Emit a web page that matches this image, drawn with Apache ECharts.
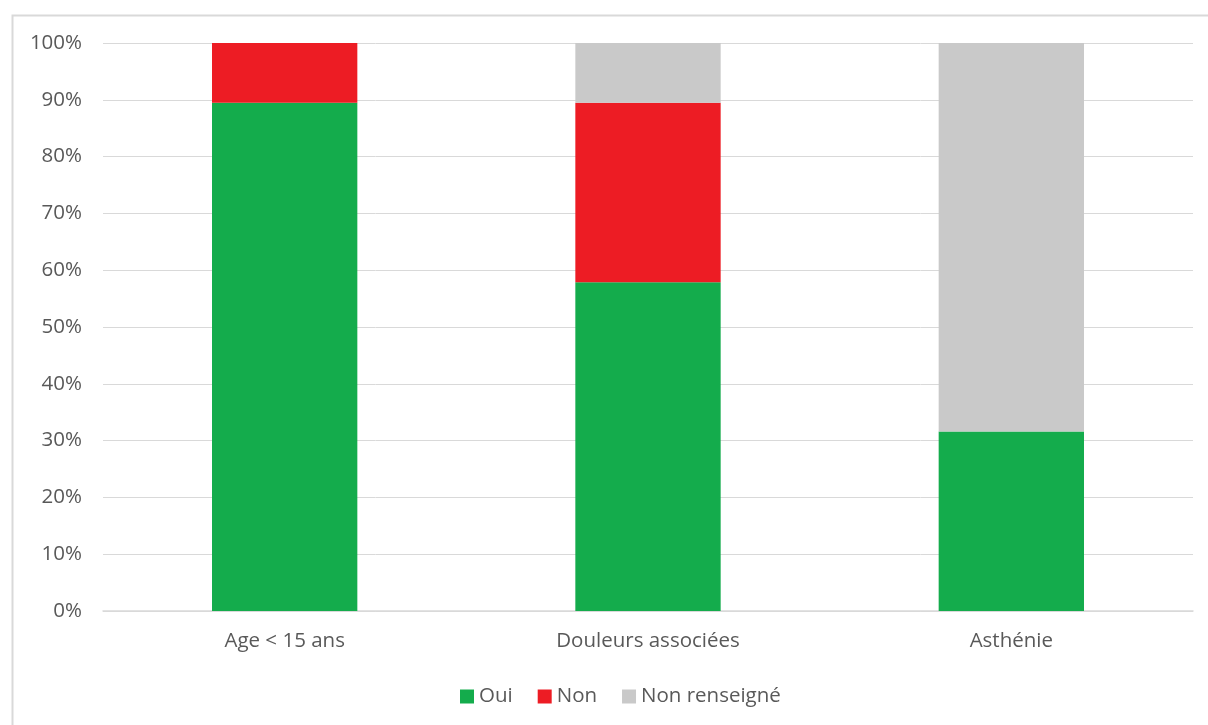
<!DOCTYPE html>
<html>
<head>
<meta charset="utf-8">
<script src="https://cdn.jsdelivr.net/npm/echarts@6/dist/echarts.min.js"></script>
<style>html,body{margin:0;padding:0;background:#fff}#c{width:1208px;height:725px}</style>
</head>
<body>
<div id="c"></div>
<script>
const categories = ['Age < 15 ans', 'Douleurs associées', 'Asthénie'];
const seriesNames = ['Oui', 'Non', 'Non renseigné'];
const oui = [89.5, 57.9, 31.6];
const non = [10.5, 31.6, 0];
const nonRenseigne = [0, 10.5, 68.4];
const yTicks = [0, 10, 20, 30, 40, 50, 60, 70, 80, 90, 100];
const colors = ['#14AC4C', '#ED1C24', '#C9C9C9'];

const chart = echarts.init(document.getElementById('c'), null, {renderer: 'canvas'});
const font = '"Open Sans", Lato, sans-serif';
const values = [oui, non, nonRenseigne];
chart.setOption({
  animation: false,
  textStyle: {fontFamily: font},
  graphic: [{
    type: 'rect', left: 10, top: 13, silent: true,
    shape: {x: 0, y: 0, width: 1400, height: 900},
    style: {fill: 'none', stroke: '#d9d9d9', lineWidth: 2}
  }],
  grid: {left: 103, right: 15, top: 43, bottom: 114, containLabel: false},
  legend: {
    bottom: 13, left: 455, itemWidth: 14, itemHeight: 14, itemGap: 25,
    icon: 'rect',
    textStyle: {color: '#595959', fontSize: 20.5, fontFamily: font},
    data: seriesNames
  },
  xAxis: {
    type: 'category', data: categories,
    axisLine: {lineStyle: {color: '#d9d9d9', width: 1.5}},
    axisTick: {show: false},
    axisLabel: {color: '#595959', fontSize: 20.5, margin: 20, fontFamily: font}
  },
  yAxis: {
    type: 'value', min: yTicks[0], max: yTicks[yTicks.length - 1], interval: 10,
    axisLine: {show: false}, axisTick: {show: false},
    splitLine: {lineStyle: {color: '#d9d9d9', width: 1}},
    axisLabel: {color: '#595959', fontSize: 20.5, margin: 21, fontFamily: font, formatter: v => v + '%'}
  },
  series: seriesNames.map((n, i) => ({
    name: n, type: 'bar', stack: 'total', barWidth: '40%',
    itemStyle: {color: colors[i]},
    data: values[i]
  }))
});
</script>
</body>
</html>
